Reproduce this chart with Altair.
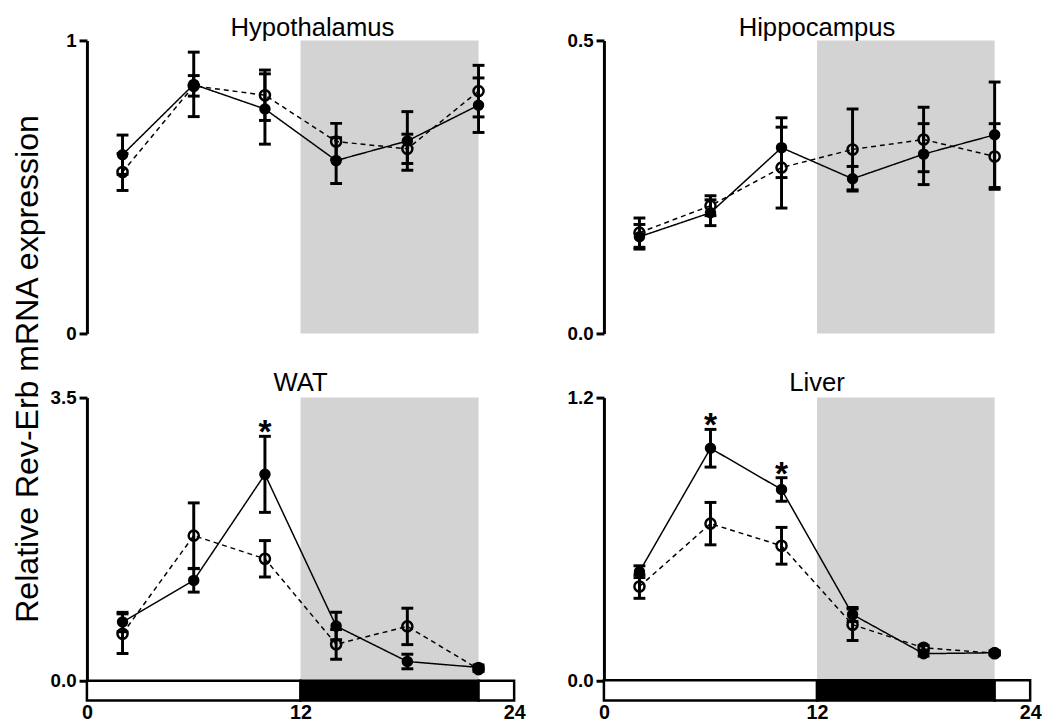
import altair as alt
import pandas as pd

times = [2, 6, 10, 14, 18, 22]

hyp_filled = [0.61, 0.85, 0.766, 0.59, 0.657, 0.779]
hyp_filled_err = [0.067, 0.11, 0.12, 0.078, 0.10, 0.093]
hyp_open = [0.551, 0.845, 0.813, 0.655, 0.63, 0.827]
hyp_open_err = [0.063, 0.035, 0.086, 0.062, 0.05, 0.088]

hip_filled = [0.165, 0.206, 0.317, 0.264, 0.306, 0.339]
hip_filled_err = [0.021, 0.022, 0.051, 0.021, 0.052, 0.09]
hip_open = [0.172, 0.218, 0.283, 0.314, 0.331, 0.302]
hip_open_err = [0.025, 0.017, 0.069, 0.069, 0.055, 0.056]

wat_filled = [0.725, 1.24, 2.551, 0.675, 0.237, 0.164]
wat_filled_err = [0.12, 0.145, 0.47, 0.17, 0.09, 0.03]
wat_open = [0.581, 1.793, 1.507, 0.45, 0.671, 0.143]
wat_open_err = [0.245, 0.405, 0.225, 0.184, 0.225, 0.03]

liv_filled = [0.461, 0.985, 0.810, 0.279, 0.113, 0.117]
liv_filled_err = [0.025, 0.08, 0.05, 0.03, 0.01, 0.008]
liv_open = [0.398, 0.665, 0.571, 0.236, 0.138, 0.115]
liv_open_err = [0.05, 0.09, 0.078, 0.067, 0.01, 0.008]

wat_star_times = [10]
liv_star_times = [6, 10]

dark_start, dark_end = 12, 22
ld_segments = [(0, 12, "white"), (12, 22, "black"), (22, 24, "white")]

FONT = "Liberation Sans"


def panel(title, filled, ferr, opn, oerr, ymin, ymax, ticks, fmt, stars,
          width, height, show_x, title_dx, title_offset):
    rows = []
    for t, v, e in zip(times, filled, ferr):
        rows.append(dict(t=t, v=v, lo=v - e, hi=v + e, s="filled"))
    for t, v, e in zip(times, opn, oerr):
        rows.append(dict(t=t, v=v, lo=v - e, hi=v + e, s="open"))
    df = pd.DataFrame(rows)

    xscale = alt.Scale(domain=[0, 24], nice=False, zero=False)
    yscale = alt.Scale(domain=[ymin, ymax], nice=False, zero=False)
    if show_x:
        xaxis = alt.Axis(values=[0, 12, 24], format="d", domain=False, ticks=False,
                         labelPadding=2, labelFlush=False, title=None, grid=False, labelFontSize=20,
                         labelFontWeight="bold", labelColor="black", labelFont=FONT)
    else:
        xaxis = None
    yaxis = alt.Axis(values=ticks, format=fmt, title=None, grid=False, labelFlush=False,
                     domainWidth=3, domainColor="black", tickWidth=3, tickColor="black",
                     tickSize=8, labelPadding=3, labelFontSize=19, labelFontWeight="bold",
                     labelColor="black", labelFont=FONT)

    def X(f):
        return alt.X(f, type="quantitative", scale=xscale, axis=xaxis)

    def Y(f):
        return alt.Y(f, type="quantitative", scale=yscale, axis=yaxis)

    shade = alt.Chart(pd.DataFrame({"x": [dark_start], "x2": [dark_end], "y": [0], "y2": [ymax]})).mark_rect(
        color="#d3d3d3").encode(x=X("x"), x2="x2", y=Y("y"), y2="y2")

    layers = [shade]
    if show_x:
        ld = pd.DataFrame({"x": [a for a, b, c in ld_segments], "x2": [b for a, b, c in ld_segments],
                           "c": [c for a, b, c in ld_segments], "y": [ymin] * 3, "y2": [0] * 3})
        bar = alt.Chart(ld).mark_rect(stroke="black", strokeWidth=2.5).encode(
            x=X("x"), x2="x2", y=Y("y"), y2="y2", fill=alt.Fill("c:N", scale=None))
        layers.append(bar)

    base = alt.Chart(df)
    lines = base.mark_line(color="black", strokeWidth=1.5).encode(
        x=X("t"), y=Y("v"), detail="s:N",
        strokeDash=alt.StrokeDash("s:N", scale=alt.Scale(domain=["filled", "open"], range=[[1, 0], [5, 4]]),
                                  legend=None))
    rules = base.mark_rule(color="black", strokeWidth=3).encode(x=X("t"), y=Y("lo"), y2="hi")
    cap_lo = base.mark_tick(color="black", orient="horizontal", size=12, thickness=3, opacity=1).encode(
        x=X("t"), y=Y("lo"))
    cap_hi = base.mark_tick(color="black", orient="horizontal", size=12, thickness=3, opacity=1).encode(
        x=X("t"), y=Y("hi"))
    open_pts = base.transform_filter(alt.datum.s == "open").mark_point(
        shape="circle", filled=False, color="black", strokeWidth=2.5, size=105, opacity=1).encode(
        x=X("t"), y=Y("v"))
    filled_pts = base.transform_filter(alt.datum.s == "filled").mark_point(
        shape="circle", filled=True, color="black", size=135, opacity=1).encode(
        x=X("t"), y=Y("v"))
    layers += [lines, rules, cap_lo, cap_hi, open_pts, filled_pts]

    if stars:
        sdf = df[(df.s == "filled") & (df.t.isin(stars))]
        star = alt.Chart(sdf).mark_text(text="*", fontSize=34, fontWeight="bold", font=FONT,
                                        baseline="middle", dy=-3, color="black").encode(
            x=X("t"), y=Y("hi"))
        layers.append(star)

    return alt.layer(*layers).properties(
        width=width, height=height,
        title=alt.TitleParams(text=title, fontSize=26, fontWeight="normal", font=FONT, color="black",
                              dx=title_dx, offset=title_offset, frame="group"))


tl = panel("Hypothalamus", hyp_filled, hyp_filled_err, hyp_open, hyp_open_err,
           0, 1, [0, 1], "d", [], 433, 297, False, 12, -10)
tr = panel("Hippocampus", hip_filled, hip_filled_err, hip_open, hip_open_err,
           0, 0.5, [0, 0.5], ".1f", [], 432, 297, False, 0, -10)
bl = panel("WAT", wat_filled, wat_filled_err, wat_open, wat_open_err,
           -0.245, 3.5, [0, 3.5], ".1f", wat_star_times, 433, 307, True, 0, -7)
br = panel("Liver", liv_filled, liv_filled_err, liv_open, liv_open_err,
           -0.0857, 1.2, [0, 1.2], ".1f", liv_star_times, 432, 307, True, 0, -7)

chart = alt.concat(tl, tr, bl, br, columns=2, spacing={"row": 27, "column": 41}).properties(
    title=alt.TitleParams(text="Relative Rev-Erb mRNA expression", orient="left", anchor="middle",
                          fontSize=32.5, fontWeight="normal", font=FONT, color="black", offset=6),
    padding={"left": 4, "top": 3, "right": 0, "bottom": 0}
).configure(font=FONT).configure_view(stroke=None)

chart.save("out.html", embed_options={"renderer": "svg", "actions": False})
